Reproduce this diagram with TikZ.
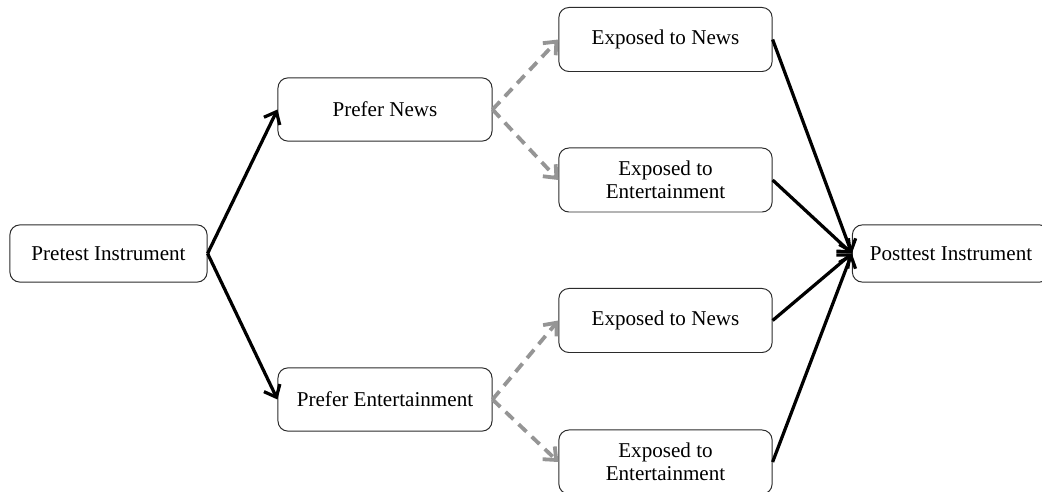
\documentclass[tikz,border=0pt]{standalone}
\usepackage{fontspec}
\setmainfont{Liberation Serif}
\usetikzlibrary{arrows.meta, positioning}
\definecolor{borde}{HTML}{2B2B2B}
\definecolor{gristrazo}{HTML}{959595}
\tikzset{
  caja/.style={rectangle, rounded corners=2.5mm, draw=borde, line width=0.7pt, fill=white,
               text centered, align=center, inner sep=0pt,
               font=\fontsize{15}{16.5}\selectfont},
  extremo/.style={caja, minimum width=4.93cm, minimum height=1.43cm},
  prefiere/.style={caja, minimum width=5.35cm, minimum height=1.58cm},
  expuesto/.style={caja, minimum width=5.33cm, minimum height=1.6cm},
  arrow/.style={line width=2.3pt, ->, >={Straight Barb[length=2.6mm, width=4.4mm]}, color=black},
  arrowd/.style={arrow, line width=2.7pt, color=gristrazo, dash pattern=on 2.7mm off 1.8mm}
}

\begin{document}
\begin{tikzpicture}[x=0.025cm, y=-0.025cm]
  \useasboundingbox (0,0) rectangle (1042,492);
  \node (pre) [extremo] at (108.5,253.5) {Pretest Instrument};
  \node (pn) [prefiere] at (385,109.5) {Prefer News};
  \node (pe) [prefiere] at (385,399.5) {Prefer Entertainment};
  \node (en1) [expuesto] at (665.5,39.5) {Exposed to News};
  \node (ee1) [expuesto] at (665.5,180) {Exposed to\\ Entertainment};
  \node (en2) [expuesto] at (665.5,320.5) {Exposed to News};
  \node (ee2) [expuesto] at (665.5,462) {Exposed to\\ Entertainment};
  \node (post) [extremo] at (951,253.5) {Posttest Instrument};
  \draw [arrow] (pre.east) -- (pn.west);
  \draw [arrow] (pre.east) -- (pe.west);
  \draw [arrowd] (pn.east) -- (en1.west);
  \draw [arrowd] (pn.east) -- (ee1.west);
  \draw [arrowd] (pe.east) -- (en2.west);
  \draw [arrowd] (pe.east) -- (ee2.west);
  \draw [arrow] (en1.east) -- (post.west);
  \draw [arrow] (ee1.east) -- (post.west);
  \draw [arrow] (en2.east) -- (post.west);
  \draw [arrow] (ee2.east) -- (post.west);
\end{tikzpicture}
\end{document}
